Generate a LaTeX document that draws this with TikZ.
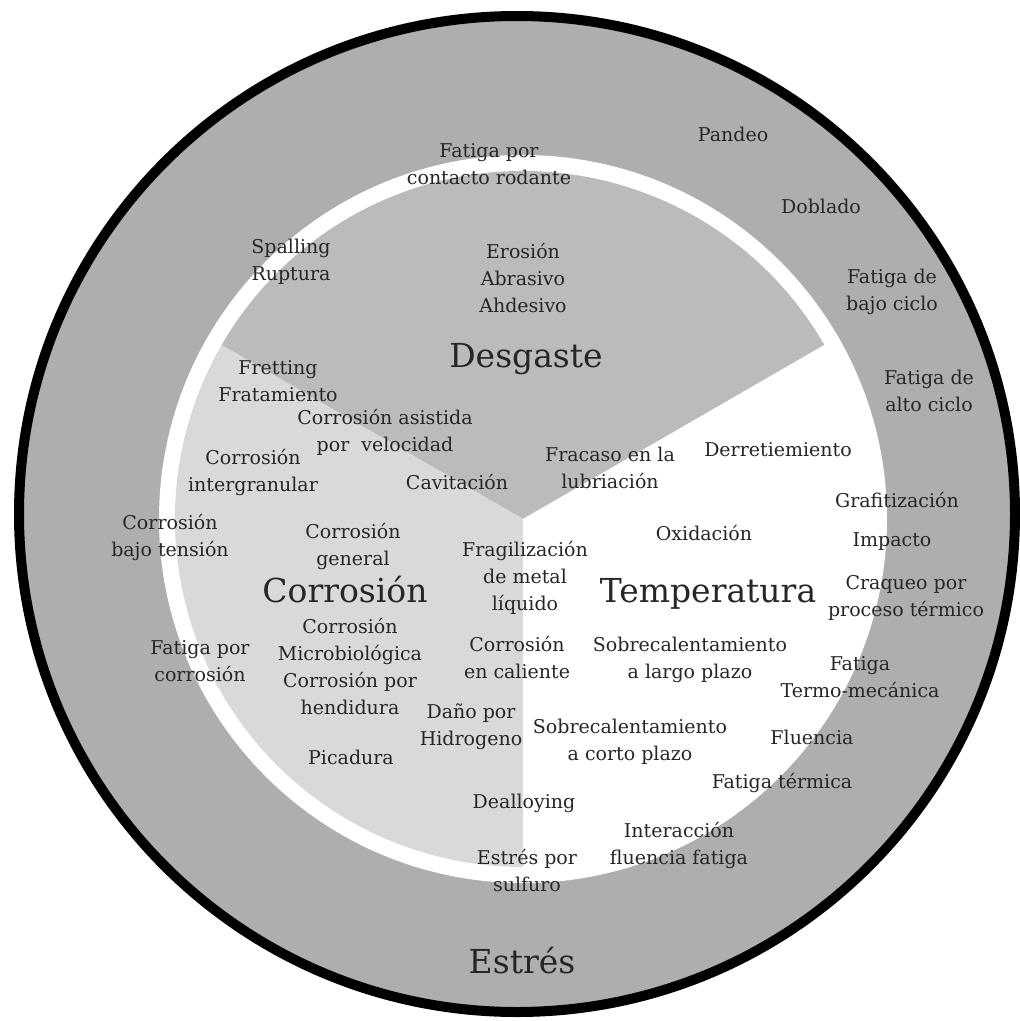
\documentclass[tikz,border=0pt]{standalone}
\usepackage{fontspec}
\setmainfont{DejaVu Serif}
\definecolor{ringgray}{RGB}{174,174,174}
\definecolor{weargray}{RGB}{187,187,187}
\definecolor{corrgray}{RGB}{217,217,217}
\definecolor{txt}{RGB}{38,38,38}
\begin{document}
\begin{tikzpicture}[x=1pt,y=-1pt,
  lbl/.style={font=\fontsize{19}{27}\selectfont, text=txt, align=center, inner sep=0pt},
  big/.style={font=\fontsize{33}{40}\selectfont, text=txt, inner sep=0pt}]
\useasboundingbox (0,0) rectangle (1020,1021);
% outer ring
\fill[ringgray] (517,514) circle (498);
\draw[line width=10pt] (517,514) circle (498);
% inner disc with white gap
\coordinate (c) at (523,519);
\fill[white] (c) circle (364);
% sectors
\fill[weargray] (c) -- ++(-30:348) arc[start angle=-30, end angle=-150, radius=348] -- cycle;
\fill[corrgray] (c) -- ++(-150:348) arc[start angle=-150, end angle=-270, radius=348] -- cycle;
\fill[white] (c) -- ++(90:348) arc[start angle=90, end angle=-30, radius=348] -- cycle;

% ring labels (Estres)
\node[lbl] (fcr) at (489,164) {Fatiga por\\contacto rodante};
\node[lbl] (pandeo) at (733,134) {Pandeo};
\node[lbl] (doblado) at (821,206) {Doblado};
\node[lbl] (fbc) at (892,292) {Fatiga de\\bajo ciclo};
\node[lbl] (fac) at (929,391) {Fatiga de\\alto ciclo};
\node[lbl] (grafit) at (897,500) {Grafitización};
\node[lbl] (impacto) at (892,542) {Impacto};
\node[lbl] (craqueo) at (906,598) {Craqueo por\\proceso térmico};
\node[lbl] (ftm) at (860,677) {Fatiga\\Termo-mecánica};
\node[lbl] (fluencia) at (812,737) {Fluencia};
\node[lbl] (ftermica) at (782,783) {Fatiga térmica};
\node[lbl] (interac) at (679,846) {Interacción\\fluencia fatiga};
\node[lbl] (sulfuro) at (527,871) {Estrés por\\sulfuro};
\node[big] (estres) at (522,961) {Estrés};
\node[lbl] (cbt) at (170,538) {Corrosión\\bajo tensión};
\node[lbl] (fpc) at (200,661) {Fatiga por\\corrosión};
\node[lbl] (spalling) at (291,262) {Spalling\\Ruptura};

% Desgaste
\node[lbl] (erosion) at (523,278) {Erosión\\Abrasivo\\Ahdesivo};
\node[big] (desgaste) at (526,359) {Desgaste};
\node[lbl] (fretting) at (278,381) {Fretting\\Fratamiento};
\node[lbl] (casist) at (385,432) {Corrosión asistida\\por\ \ velocidad};
\node[lbl] (inter) at (253,473) {Corrosión\\intergranular};
\node[lbl] (cavit) at (457,482) {Cavitación};
\node[lbl] (fracaso) at (610,468) {Fracaso en la\\lubriación};
\node[lbl] (derret) at (778,450) {Derretiemiento};

% Corrosion
\node[lbl] (cgen) at (353,547) {Corrosión\\general};
\node[big] (corrosion) at (345,590) {Corrosión};
\node[lbl] (cmicro) at (350,667) {Corrosión\\Microbiológica\\Corrosión por\\hendidura};
\node[lbl] (picadura) at (351,757) {Picadura};
\node[lbl] (hidrog) at (471,727) {Daño por\\Hidrogeno};
\node[lbl] (dealloy) at (524,803) {Dealloying};
\node[lbl] (fragil) at (525,578) {Fragilización\\de metal\\líquido};
\node[lbl] (ccal) at (517,658) {Corrosión\\en caliente};

% Temperatura
\node[lbl] (oxid) at (704,533) {Oxidación};
\node[big] (temp) at (708,594) {Temperatura};
\node[lbl] (slp) at (690,660) {Sobrecalentamiento\\a largo plazo};
\node[lbl] (scp) at (630,742) {Sobrecalentamiento\\a corto plazo};
\end{tikzpicture}
\end{document}
